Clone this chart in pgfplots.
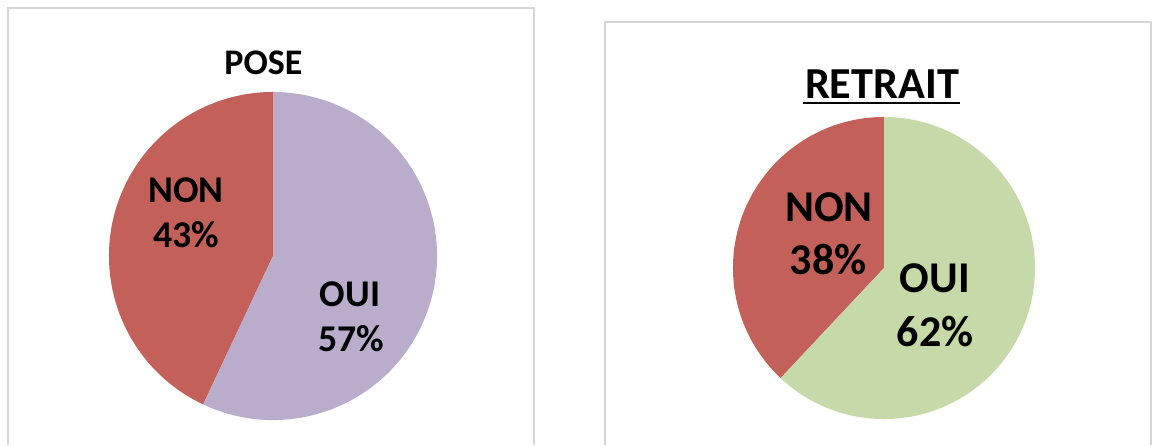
\documentclass[border=0pt]{standalone}
\usepackage{fontspec}
\setmainfont{Carlito}
\usepackage{pgfplots}
\pgfplotsset{compat=1.18}

\definecolor{nonred}{HTML}{C3605A}
\definecolor{ouipurple}{HTML}{B9ADCB}
\definecolor{ouigreen}{HTML}{C6D9A8}
\definecolor{boxgray}{HTML}{D6D6D6}

% one pie: centre x, centre y, radius (all in px), NON %, OUI %, OUI colour
\newcommand\piechart[6]{%
  \fill[nonred] (axis cs:#1,#2) -- ++(90:#3*0.02cm)
    arc[start angle=90, delta angle=#4*3.6, radius=#3*0.02cm] -- cycle;
  \fill[#6] (axis cs:#1,#2) -- ++(90+#4*3.6:#3*0.02cm)
    arc[start angle=90+#4*3.6, delta angle=#5*3.6, radius=#3*0.02cm] -- cycle;
}

\begin{document}
\begin{tikzpicture}
\begin{axis}[
    scale only axis,
    width=23.04cm, height=8.9cm,
    xmin=0, xmax=1152, ymin=0, ymax=445,
    y dir=reverse,
    hide axis,
    clip=false,
]
% chart frames (bottom cut off)
\draw[boxgray, line width=1.3pt] (axis cs:8,445) -- (axis cs:8,8) -- (axis cs:534,8) -- (axis cs:534,445);
\draw[boxgray, line width=1.3pt] (axis cs:605,445) -- (axis cs:605,22) -- (axis cs:1151,22) -- (axis cs:1151,445);

% POSE: NON 43, OUI 57
\piechart{273}{256}{164}{43}{57}{ouipurple}
% RETRAIT: NON 38, OUI 62
\piechart{884}{268}{151}{38}{62}{ouigreen}

% titles
\node[font=\fontsize{20.5}{24}\selectfont\bfseries] at (axis cs:263.5,63) {POSE};
\node[font=\fontsize{25.2}{29}\selectfont\bfseries] at (axis cs:882,84) {RETRAIT};
\draw[black, line width=1.2pt] (axis cs:803,103) -- (axis cs:960,103);

% slice labels
\begin{scope}[every node/.style={font=\fontsize{21.5}{25}\selectfont\bfseries}]
\node at (axis cs:186,190) {NON};
\node at (axis cs:186,235) {43\%};
\node at (axis cs:350,294) {OUI};
\node at (axis cs:351,339) {57\%};
\end{scope}
\begin{scope}[every node/.style={font=\fontsize{25}{29}\selectfont\bfseries}]
\node at (axis cs:829,207) {NON};
\node at (axis cs:828,260) {38\%};
\node at (axis cs:935,278) {OUI};
\node at (axis cs:935,332) {62\%};
\end{scope}
\end{axis}
\pgfresetboundingbox
\path (current axis.south west) rectangle (current axis.north east);
\end{tikzpicture}
\end{document}
